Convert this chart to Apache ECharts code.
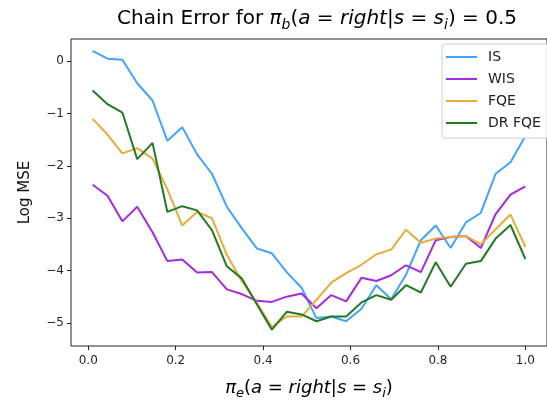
<!DOCTYPE html>
<html>
<head>
<meta charset="utf-8">
<script src="https://cdn.jsdelivr.net/npm/echarts@6/dist/echarts.min.js"></script>
<style>
html,body{margin:0;padding:0;background:#fff;}
#c{width:547px;height:405px;}
</style>
</head>
<body>
<div id="c"></div>
<script>
const xs = [0.010,0.044,0.078,0.112,0.147,0.181,0.215,0.249,0.283,0.317,0.351,0.386,0.420,0.454,0.488,0.522,0.556,0.590,0.625,0.659,0.693,0.727,0.761,0.795,0.829,0.864,0.898,0.932,0.966,1.000];
const seriesNames = ['IS','WIS','FQE','DR FQE'];
const isVals  = [0.20,0.05,0.03,-0.42,-0.75,-1.52,-1.26,-1.78,-2.15,-2.78,-3.19,-3.58,-3.67,-4.03,-4.33,-4.91,-4.88,-4.97,-4.73,-4.28,-4.55,-4.08,-3.42,-3.14,-3.57,-3.08,-2.90,-2.15,-1.93,-1.43];
const wisVals = [-2.36,-2.57,-3.06,-2.78,-3.27,-3.82,-3.79,-4.04,-4.03,-4.36,-4.45,-4.58,-4.60,-4.50,-4.44,-4.72,-4.47,-4.59,-4.14,-4.20,-4.09,-3.90,-4.03,-3.42,-3.36,-3.34,-3.57,-2.92,-2.55,-2.39];
const fqeVals = [-1.10,-1.40,-1.76,-1.66,-1.86,-2.45,-3.14,-2.88,-3.00,-3.70,-4.20,-4.62,-5.08,-4.88,-4.88,-4.56,-4.23,-4.05,-3.89,-3.69,-3.60,-3.22,-3.47,-3.39,-3.36,-3.34,-3.50,-3.21,-2.93,-3.55];
const drVals  = [-0.56,-0.82,-0.98,-1.87,-1.56,-2.88,-2.77,-2.85,-3.23,-3.92,-4.15,-4.65,-5.13,-4.79,-4.84,-4.97,-4.88,-4.88,-4.61,-4.47,-4.56,-4.28,-4.42,-3.84,-4.31,-3.87,-3.82,-3.39,-3.13,-3.78];
const xTicks = [0.0,0.2,0.4,0.6,0.8,1.0];
const yTicks = [-5,-4,-3,-2,-1,0];

const colors = ['#42a4ff','#a52ae0','#e6ad3c','#237a23'];
const allVals = [isVals, wisVals, fqeVals, drVals];
const FONT = 'DejaVu Sans';

const chart = echarts.init(document.getElementById('c'), null, {renderer:'canvas'});

const mathRich = (size) => ({
  n: {fontFamily: FONT, fontSize: size, fontWeight:'normal', color:'#000', lineHeight: size+6},
  i: {fontFamily: FONT, fontSize: size, fontWeight:'normal', fontStyle:'italic', color:'#000', lineHeight: size+6},
  sub: {fontFamily: FONT, fontSize: Math.round(size*0.7), fontWeight:'normal', fontStyle:'italic', color:'#000', lineHeight: Math.round(size*0.7), verticalAlign:'bottom'}
});

chart.setOption({
  animation: false,
  backgroundColor: '#fff',
  title: {
    text: '{n|Chain Error for }{i|π}{sub|b}{n|(}{i|a}{n| = }{i|right}{n||}{i|s}{n| = }{i|s}{sub|i}{n|) = 0.5}',
    left: 312, top: 1,
    textAlign: 'center',
    textStyle: {fontWeight:'normal', rich: mathRich(20)}
  },
  grid: {left: 71, top: 39, width: 487, height: 313, show: true, borderColor: '#222', borderWidth: 1, backgroundColor:'transparent'},
  legend: {
    orient: 'vertical',
    left: 442, top: 44,
    padding: [6, 10, 8, 3],
    itemWidth: 31, itemHeight: 14, itemGap: 8,
    backgroundColor: 'rgba(255,255,255,0.85)',
    borderColor: '#d0d0d0', borderWidth: 1, borderRadius: 3,
    itemStyle: {opacity: 0},
    lineStyle: {width: 2},
    textStyle: {fontFamily: FONT, fontSize: 14, color: '#222', padding: [0,0,0,6]},
    data: seriesNames
  },
  xAxis: {
    type: 'value',
    min: -0.0395, max: 1.0495,
    splitLine: {show: false},
    axisLine: {show: false, onZero: false},
    axisTick: {show: true, length: 4, lineStyle: {color: '#222'}, customValues: xTicks},
    axisLabel: {customValues: xTicks, fontFamily: FONT, fontSize: 12, color: '#262626', margin: 9,
      formatter: v => v.toFixed(1)},
    name: '{i|π}{sub|e}{n|(}{i|a}{n| = }{i|right}{n||}{i|s}{n| = }{i|s}{sub|i}{n|)}',
    nameLocation: 'middle', nameGap: 30,
    nameTextStyle: {rich: mathRich(18)}
  },
  yAxis: {
    type: 'value',
    min: -5.443, max: 0.426,
    splitLine: {show: false},
    axisLine: {show: false, onZero: false},
    axisTick: {show: true, length: 4, lineStyle: {color: '#222'}, customValues: yTicks},
    axisLabel: {customValues: yTicks, fontFamily: FONT, fontSize: 12, color: '#262626', margin: 7,
      formatter: v => (v < 0 ? '\u2212' + Math.abs(v) : String(v))},
    name: 'Log MSE',
    nameLocation: 'middle', nameGap: 38,
    nameTextStyle: {fontFamily: FONT, fontSize: 15, color: '#111'}
  },
  series: seriesNames.map((nm, k) => ({
    name: nm,
    type: 'line',
    symbol: 'none',
    color: colors[k],
    lineStyle: {width: 2, color: colors[k]},
    data: xs.map((x, j) => [x, allVals[k][j]])
  }))
});
</script>
</body>
</html>
